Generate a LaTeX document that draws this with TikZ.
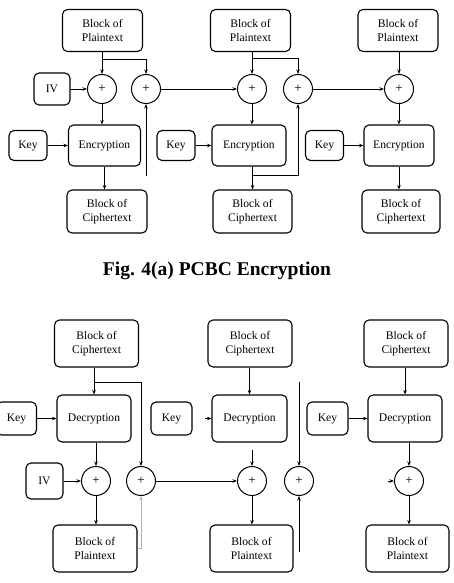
\documentclass[tikz,border=0pt]{standalone}
\usepackage{fontspec}
\setmainfont{Liberation Serif}[BoldFont={Liberation Serif Bold}]
\usetikzlibrary{arrows.meta}

\begin{document}
\begin{tikzpicture}[x=1pt, y=-1pt, >={Stealth[length=4.5pt,width=3.5pt]}, line width=0.8pt,
    every node/.style={font=\fontsize{11.6}{14.5}\selectfont},
    blk/.style={draw, rounded corners=5pt, align=center, inner sep=1pt, line width=1.1pt},
    xor/.style={draw, circle, minimum size=29pt, inner sep=0pt, line width=1pt, font=\fontsize{13}{14}\selectfont}]
    \useasboundingbox (0,0) rectangle (453,583);

    % Encryption nodes
    \node (p1) [blk, minimum width=80pt, minimum height=42pt] at (102.5,30.5) {Block of\\Plaintext};
    \node (p2) [blk, minimum width=80pt, minimum height=42pt] at (250.5,30.5) {Block of\\Plaintext};
    \node (p3) [blk, minimum width=80pt, minimum height=42pt] at (398,30.5) {Block of\\Plaintext};
    \node (iv1) [blk, minimum width=36pt, minimum height=32pt] at (52,89) {IV};
    \node (x1) [xor] at (102,89) {+};
    \node (x2) [xor] at (146,89) {+};
    \node (x3) [xor] at (252,89) {+};
    \node (x4) [xor] at (298,89) {+};
    \node (x5) [xor] at (399,89) {+};
    \node (k1) [blk, minimum width=38pt, minimum height=30pt] at (28,145.5) {Key};
    \node (k2) [blk, minimum width=38pt, minimum height=30pt] at (176,145.5) {Key};
    \node (k3) [blk, minimum width=38pt, minimum height=30pt] at (324.5,145.5) {Key};
    \node (e1) [blk, minimum width=72pt, minimum height=41pt] at (104.5,145.5) {Encryption};
    \node (e2) [blk, minimum width=74pt, minimum height=41pt] at (249,145.5) {Encryption};
    \node (e3) [blk, minimum width=70pt, minimum height=41pt] at (399,145.5) {Encryption};
    \node (c1) [blk, minimum width=80pt, minimum height=43pt] at (107,211.5) {Block of\\Ciphertext};
    \node (c2) [blk, minimum width=79pt, minimum height=43pt] at (252.5,211.5) {Block of\\Ciphertext};
    \node (c3) [blk, minimum width=78pt, minimum height=43pt] at (401,211.5) {Block of\\Ciphertext};
    \node (cap) [font=\fontsize{19.5}{22}\selectfont\bfseries] at (217,271) {Fig. 4(a) PCBC Encryption};

    % Arrows for encryption
    \coordinate (f1) at (146,176);
    \draw[->] (p1.south -| x1) -- (x1.north);
    \draw[->] (x1 |- 0,59) -| (x2.north);
    \draw[->] (iv1) -- (x1);
    \draw[->] (x1) -- (x1 |- e1.north);
    \draw[->] (k1) -- (e1);
    \draw[->] (e1.south) -- (e1.south |- c1.north);
    \draw[->] (f1) -- (x2.south);
    \draw[->] (x2) -- (x3);
    \draw[->] (p2.south -| x3) -- (x3.north);
    \draw[->] (x3 |- 0,58) -| (x4.north);
    \draw[->] (x3) -- (x3 |- e2.north);
    \draw[->] (k2) -- (e2);
    \draw[->] (e2.south -| c2) -- (c2.north);
    \draw[->] (c2 |- 0,175) -| (x4.south);
    \draw[->] (x4) -- (x5);
    \draw[->] (p3.south -| x5) -- (x5.north);
    \draw[->] (x5) -- (x5 |- e3.north);
    \draw[->] (k3) -- (e3);
    \draw[->] (x5 |- e3.south) -- (x5 |- c3.north);

    % Decryption nodes
    \node (cb1) [blk, minimum width=84pt, minimum height=47pt] at (96.5,343.5) {Block of\\Ciphertext};
    \node (cb2) [blk, minimum width=84pt, minimum height=47pt] at (250,343.5) {Block of\\Ciphertext};
    \node (cb3) [blk, minimum width=84pt, minimum height=47pt] at (406,343.5) {Block of\\Ciphertext};
    \node (d1) [blk, minimum width=74pt, minimum height=47pt] at (94,418.5) {Decryption};
    \node (d2) [blk, minimum width=75pt, minimum height=47pt] at (249.5,418.5) {Decryption};
    \node (d3) [blk, minimum width=74pt, minimum height=47pt] at (405,418.5) {Decryption};
    \node (kb1) [blk, minimum width=40pt, minimum height=33pt] at (16.5,418.5) {Key};
    \node (kb2) [blk, minimum width=41pt, minimum height=33pt] at (171.5,418.5) {Key};
    \node (kb3) [blk, minimum width=41pt, minimum height=33pt] at (327.5,418.5) {Key};
    \node (ivb) [blk, minimum width=37pt, minimum height=36pt] at (44.5,481) {IV};
    \node (y1) [xor] at (96,481) {+};
    \node (y2) [xor] at (141,481) {+};
    \node (y3) [xor] at (252,481) {+};
    \node (y4) [xor] at (299,481) {+};
    \node (y5) [xor] at (409,481) {+};
    \node (pb1) [blk, minimum width=84pt, minimum height=47pt] at (95,548.5) {Block of\\Plaintext};
    \node (pb2) [blk, minimum width=83pt, minimum height=47pt] at (251.5,548.5) {Block of\\Plaintext};
    \node (pb3) [blk, minimum width=83pt, minimum height=47pt] at (407.5,548.5) {Block of\\Plaintext};

    % Arrows for decryption
    \coordinate (s1) at (205,418.5);
    \coordinate (s2) at (252,450);
    \coordinate (s3) at (388,481);
    \coordinate (f2) at (299,382);
    \coordinate (f3) at (299,552);
    \draw[->] (cb1.south -| d1) -- (d1.north);
    \draw[->] (d1 |- 0,382) -| (y2.north);
    \draw[->] (kb1) -- (d1);
    \draw[->] (d1.south -| y1) -- (y1.north);
    \draw[->] (ivb) -- (y1);
    \draw[->] (y1) -- (y1 |- pb1.north);
    \draw[->, gray!60] (pb1.east) -| (y2.south);
    \draw[->] (y2) -- (y3);
    \draw[->] (cb2.south -| d2) -- (d2.north);
    \draw[->] (s1) -- (d2.west);
    \draw[->] (s2) -- (y3.north);
    \draw[->] (y3) -- (y3 |- pb2.north);
    \draw[->] (f2) -- (y4.north);
    \draw[->] (f3) -- (y4.south);
    \draw[->] (s3) -- (y5.west);
    \draw[->] (cb3.south -| d3) -- (d3.north);
    \draw[->] (kb3) -- (d3);
    \draw[->] (d3.south -| y5) -- (y5.north);
    \draw[->] (y5) -- (y5 |- pb3.north);

\end{tikzpicture}
\end{document}
